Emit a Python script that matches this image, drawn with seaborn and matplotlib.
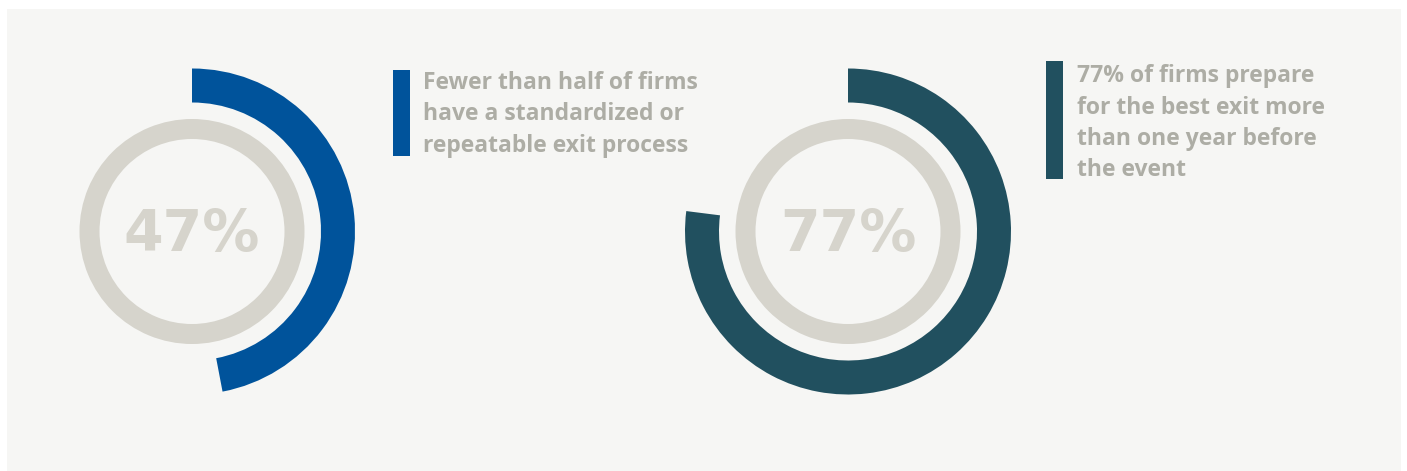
import matplotlib
matplotlib.use("Agg")
import matplotlib.pyplot as plt
import seaborn as sns

# ---- data -------------------------------------------------------------
shares = [47, 77]
share_labels = ["47%", "77%"]
captions = [
    ["Fewer than half of firms", "have a standardized or", "repeatable exit process"],
    ["77% of firms prepare", "for the best exit more", "than one year before", "the event"],
]

# ---- style ------------------------------------------------------------
sns.set_theme(style="white")
arc_colors = sns.color_palette(["#00539b", "#21505f"])
ring_color = "#d6d4cc"
text_color = "#adada5"
panel_color = "#f6f6f4"
plt.rcParams["font.family"] = ["Open Sans", "DejaVu Sans"]

W, H = 1407, 471
fig = plt.figure(figsize=(W / 100, H / 100), dpi=100, facecolor="white")
# panel area, data units are pixels (y measured upward from the bottom edge)
ax = fig.add_axes([7 / W, 0, 1394 / W, 462 / H])
ax.set_facecolor(panel_color)
ax.set_autoscale_on(False)
ax.set_xlim(7, 1401)
ax.set_ylim(0, 462)


def up(y):
    """convert a top-down pixel row to the axes' upward y"""
    return H - y


centers_x = [192, 848]
center_y = up(231.5)
arc_outer, arc_width = 163, 34
ring_outer, ring_width = 112.5, 20

caption_bars = [(393, 410, 70, 156), (1046, 1063, 61, 179)]
caption_x = [423, 1077]
caption_first_baseline = [89, 82]
line_step = 31.5

for i, share in enumerate(shares):
    cx = centers_x[i]
    # inner grey ring
    ax.pie([1], radius=ring_outer, center=(cx, center_y), colors=[ring_color],
           wedgeprops=dict(width=ring_width, linewidth=0), frame=True)
    # outer progress arc, clockwise from twelve o'clock
    ax.pie([share, 100 - share], radius=arc_outer, center=(cx, center_y),
           colors=[arc_colors[i], (0, 0, 0, 0)], startangle=90, counterclock=False,
           wedgeprops=dict(width=arc_width, linewidth=0), frame=True)
    ax.text(cx, up(250.5), share_labels[i], ha="center", va="baseline",
            fontsize=41, fontweight="bold", color=ring_color,
            family=["DejaVu Sans"])

    # caption with its accent bar
    x0, x1, top, bottom = caption_bars[i]
    ax.bar((x0 + x1) / 2, top - bottom, width=x1 - x0, bottom=up(top),
           color=arc_colors[i], linewidth=0)
    for k, line in enumerate(captions[i]):
        ax.text(caption_x[i], up(caption_first_baseline[i] + k * line_step), line,
                ha="left", va="baseline", fontsize=16.5, fontweight="bold",
                color=text_color)

ax.set_aspect("equal", adjustable="datalim")
ax.set_xlim(7, 1401)
ax.set_ylim(0, 462)
ax.set_xticks([])
ax.set_yticks([])
for s in ax.spines.values():
    s.set_visible(False)

fig.savefig("out.png", dpi=100, facecolor="white")
